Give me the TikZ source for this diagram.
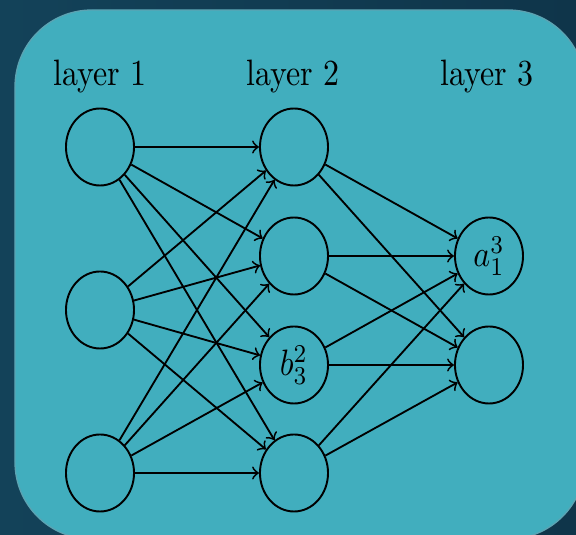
\documentclass[tikz,border=0pt]{standalone}
\usepackage{tikz}
\usetikzlibrary{shapes.geometric}
\definecolor{navyleft}{HTML}{134259}
\definecolor{navyright}{HTML}{0F354A}
\definecolor{panelteal}{HTML}{41AEBE}
\definecolor{paneledge}{HTML}{5CA3B2}
\def\tall#1{\scalebox{1}[1.15]{#1}}

\begin{document}
\begin{tikzpicture}[x=0.313pt, y=-0.313pt]
		%%%%% START %%%%%
		\tikzset{neuron/.style={draw, ellipse, line width=0.6pt, minimum width=21.3pt, minimum height=24.1pt, inner sep=0pt}}
		\tikzset{synapse/.style={->, line width=0.58pt}}
		
		\useasboundingbox (0, 0) rectangle (576, 535);
		\clip (0, 0) rectangle (576, 535);
		\shade[left color=navyleft, right color=navyright] (0, 0) rectangle (576, 535);
		\draw[fill=panelteal, draw=paneledge, line width=0.4pt, rounded corners=24pt] (15, 10) rectangle (585, 539);
		
		\node[anchor=base] (lay1) at (100, 86) {\tall{layer 1}};
		\node[anchor=base] (lay2) at (293, 86) {\tall{layer 2}};
		\node[anchor=base] (lay3) at (487, 86) {\tall{layer 3}};
		
		\node[neuron] (a1) at (100, 147) {};
		\node[neuron] (a2) at (100, 310) {};
		\node[neuron] (a3) at (100, 473) {};
		
		\node[neuron] (b1) at (294, 147) {};
		\node[neuron] (b2) at (294, 256) {};
		\node[neuron] (b3) at (294, 365) {\tall{$b^2_3$}};
		\node[neuron] (b4) at (294, 473) {};
		
		\node[neuron] (c1) at (489, 256) {\tall{$a^3_1$}};
		\node[neuron] (c2) at (489, 365) {};
		
		\draw[synapse] (a1) -- (b1);
		\draw[synapse] (a1) -- (b2);
		\draw[synapse] (a1) -- (b3);
		\draw[synapse] (a1) -- (b4);
		\draw[synapse] (a2) -- (b1);
		\draw[synapse] (a2) -- (b2);
		\draw[synapse] (a2) -- (b3);
		\draw[synapse] (a2) -- (b4);
		\draw[synapse] (a3) -- (b1);
		\draw[synapse] (a3) -- (b2);
		\draw[synapse] (a3) -- (b3);
		\draw[synapse] (a3) -- (b4);
		
		\draw[synapse] (b1) -- (c1);
		\draw[synapse] (b1) -- (c2);
		\draw[synapse] (b2) -- (c1);
		\draw[synapse] (b2) -- (c2);
		\draw[synapse] (b3) -- (c1);
		\draw[synapse] (b3) -- (c2);
		\draw[synapse] (b4) -- (c1);
		\draw[synapse] (b4) -- (c2);
		
		%%%%% END %%%%%
	\end{tikzpicture}
\end{document}
